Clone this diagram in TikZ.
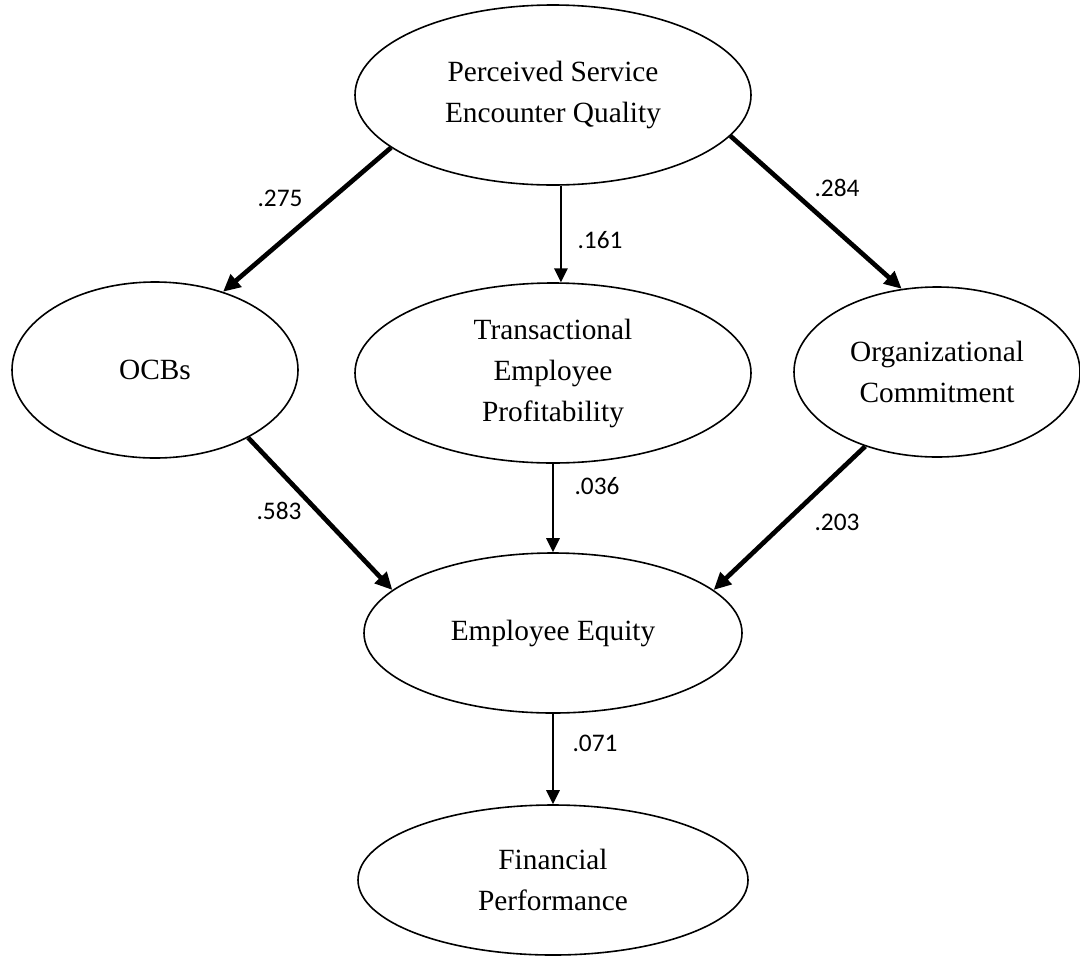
\documentclass[tikz,border=0pt]{standalone}
\usepackage{fontspec}
\setmainfont{Liberation Serif}
\newfontfamily\numfont{Carlito}
\usetikzlibrary{shapes,arrows.meta}
\tikzstyle{lat}=[draw, ellipse, line width=1.2pt, inner sep=0pt, align=center, font=\fontsize{22}{30.75}\selectfont]
\tikzstyle{pth}=[line width=3.5pt, -{Triangle[length=13pt,width=12pt]}]
\tikzstyle{pthin}=[line width=1.5pt, -{Triangle[length=10.5pt,width=10pt]}]
\tikzstyle{coef}=[inner sep=0pt, font=\numfont\fontsize{19}{22}\selectfont]

\begin{document}
\begin{tikzpicture}[x=0.75pt,y=-0.75pt]
\useasboundingbox (0,0) rectangle (1080,957);

\node[lat, minimum width=297pt, minimum height=135pt] at (553,95) (pseq) {Perceived Service\\Encounter Quality};

\node[lat, minimum width=214.5pt, minimum height=132pt] at (155,370) (ocb) {OCBs};
\node[lat, minimum width=297pt, minimum height=135pt] at (553,373) (tep) {Transactional\\Employee\\Profitability};
\node[lat, minimum width=214.5pt, minimum height=127.5pt] at (937,372) (oc) {Organizational\\Commitment};

\node[lat, minimum width=283.5pt, minimum height=120pt] at (553,633) (ee) {Employee Equity};
\node[lat, minimum width=292.5pt, minimum height=112.5pt] at (553,880) (fp) {Financial\\Performance};

% first stage
\draw[pth] (pseq.198) -- (ocb.49);
\draw[pthin] (pseq.-85) -- (tep.85);
\draw[pth] (pseq.-13) -- (oc.113);
\node[coef] at (280,198) (c1) {.275};
\node[coef] at (600,240) (c2) {.161};
\node[coef] at (837,188) (c3) {.284};

% second stage
\draw[pth] (ocb.-36) -- (ee.165);
\draw[pthin] (tep.south) -- (ee.north);
\draw[pth] (oc.226) -- (ee.15);
\node[coef] at (279,511) (c4) {.583};
\node[coef] at (597,486) (c5) {.036};
\node[coef] at (837,522) (c6) {.203};

\draw[pthin] (ee.south) -- (fp.north);
\node[coef] at (595,743) (c7) {.071};
\end{tikzpicture}
\end{document}
